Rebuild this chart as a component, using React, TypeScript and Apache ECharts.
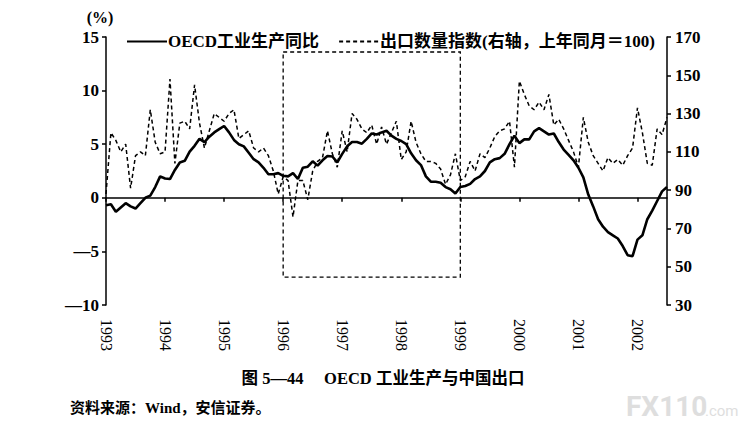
import React, { useEffect, useRef } from "react";
import * as echarts from "echarts";

const YEARS = ["1993", "1994", "1995", "1996", "1997", "1998", "1999", "2000", "2001", "2002"];
const MONTHS_IN_LAST_YEAR = 7;

// OECD industrial production, yoy (%), monthly from 1993-01
const OECD_IP = [
  -0.7, -0.6, -1.3, -0.9, -0.5, -0.8, -1.0, -0.5, 0.0, 0.2, 1.0, 2.0,
  1.8, 1.75, 2.6, 3.3, 3.45, 4.3, 4.85, 5.5, 5.2, 5.7, 6.1, 6.4,
  6.7, 6.1, 5.4, 5.0, 4.8, 4.2, 3.6, 3.3, 2.8, 2.2, 2.2, 2.3,
  2.05, 2.0, 2.3, 1.75, 2.8, 2.9, 3.4, 3.0, 3.5, 3.9, 3.85, 3.3,
  4.1, 4.8, 5.2, 5.2, 5.05, 5.5, 6.0, 5.9, 6.1, 6.25, 5.8, 5.5,
  5.3, 5.0, 4.15, 3.5, 3.05, 2.0, 1.5, 1.5, 1.4, 1.0, 0.8, 0.4,
  1.0, 1.1, 1.3, 1.75, 2.0, 2.5, 3.3, 3.6, 3.7, 4.1, 5.0, 5.8,
  5.1, 5.45, 5.45, 6.2, 6.5, 6.2, 5.9, 6.0, 5.2, 4.5, 4.0, 3.5,
  2.8, 1.9, 0.3, -0.8, -2.0, -2.7, -3.2, -3.5, -3.8, -4.5, -5.35, -5.45,
  -3.9, -3.5, -2.0, -1.2, -0.3, 0.6, 1.0,
];

// China export volume index (same month last year = 100), monthly from 1993-01
const EXPORT_IDX = [
  88, 120, 116, 110, 114, 91, 108, 110, 108, 132, 115, 109,
  110, 148, 104, 125, 126, 122, 145, 125, 112, 121, 130, 128,
  126, 130, 132, 117, 119, 121, 112, 110, 112, 108, 100, 88,
  97, 95, 76, 95, 95, 85, 100, 105, 107, 121, 109, 102,
  121, 110, 130, 127, 122, 120, 124, 114, 123, 114, 120, 126,
  106, 110, 126, 115, 109, 105, 105, 104, 101, 93, 98, 109,
  95, 97, 105, 100, 109, 107, 112, 118, 121, 122, 126, 102,
  147, 140, 134, 132, 136, 132, 140, 124, 127, 122, 116, 110,
  102, 128, 115, 108, 104, 100, 107, 104, 106, 103, 108, 112,
  133, 120, 104, 103, 122, 119, 128,
];

const LEFT_TICKS = { min: -10, max: 15, interval: 5 };
const RIGHT_TICKS = { min: 30, max: 170, interval: 20 };
const BOX = { from: "1996-01", to: "1999-01", top: 13.6, bottom: -7.4 };

const SERIES_NAMES = ["OECD工业生产同比", "出口数量指数(右轴，上年同月＝100)"];

const MONTHS: string[] = [];
YEARS.forEach((y, yi) => {
  const n = yi === YEARS.length - 1 ? MONTHS_IN_LAST_YEAR : 12;
  for (let m = 1; m <= n; m++) MONTHS.push(`${y}-${String(m).padStart(2, "0")}`);
});

const FONT = "'Liberation Serif', 'Noto Sans CJK SC', serif";

export default function App() {
  const ref = useRef<HTMLDivElement>(null);
  useEffect(() => {
    document.body.style.margin = "0";
    if (!ref.current) return;
    const chart = echarts.init(ref.current, undefined, { renderer: "svg" });
    const yearTick = (i: number) => i % 12 === 0;
    chart.setOption({
      animation: false,
      backgroundColor: "#fff",
      textStyle: { fontFamily: FONT, color: "#000" },
      grid: { left: 106, right: 88, top: 37, bottom: 124, containLabel: false },
      legend: {
        left: 121,
        top: 28,
        itemWidth: 40,
        itemHeight: 14,
        itemGap: 19,
        itemStyle: { opacity: 0 },
        textStyle: { fontFamily: FONT, fontSize: 17, fontWeight: "bold", color: "#000", padding: [0, 0, 0, -4] },
        data: SERIES_NAMES,
      },
      xAxis: [
        {
          type: "category",
          data: MONTHS,
          boundaryGap: false,
          position: "bottom",
          axisLine: { show: true, onZero: true, onZeroAxisIndex: 0, lineStyle: { color: "#000", width: 1.5 } },
          axisTick: { show: true, interval: yearTick, length: 4, lineStyle: { color: "#000", width: 1.5 } },
          axisLabel: { show: false },
          splitLine: { show: false },
        },
        {
          type: "category",
          data: MONTHS,
          boundaryGap: false,
          position: "bottom",
          axisLine: { show: false, onZero: false },
          axisTick: { show: false },
          axisLabel: {
            show: true,
            interval: yearTick,
            rotate: -90,
            margin: 14,
            fontFamily: FONT,
            fontSize: 16,
            color: "#000",
            formatter: (v: string) => v.slice(0, 4),
          },
          splitLine: { show: false },
        },
      ],
      yAxis: [
        {
          type: "value",
          position: "left",
          min: LEFT_TICKS.min,
          max: LEFT_TICKS.max,
          interval: LEFT_TICKS.interval,
          axisLine: { show: true, lineStyle: { color: "#000", width: 1.5 } },
          axisTick: { show: true, length: 4, lineStyle: { color: "#000", width: 1.5 } },
          axisLabel: {
            margin: 7,
            fontFamily: FONT,
            fontSize: 17,
            fontWeight: "bold",
            color: "#000",
            formatter: (v: number) => (v < 0 ? "—" + Math.abs(v) : String(v)),
          },
          splitLine: { show: false },
        },
        {
          type: "value",
          position: "right",
          min: RIGHT_TICKS.min,
          max: RIGHT_TICKS.max,
          interval: RIGHT_TICKS.interval,
          axisLine: { show: true, lineStyle: { color: "#000", width: 1.5 } },
          axisTick: { show: true, length: 4, lineStyle: { color: "#000", width: 1.5 } },
          axisLabel: { margin: 8, fontFamily: FONT, fontSize: 17, fontWeight: "bold", color: "#000" },
          splitLine: { show: false },
        },
      ],
      series: [
        {
          name: SERIES_NAMES[0],
          type: "line",
          data: OECD_IP,
          xAxisIndex: 0,
          yAxisIndex: 0,
          symbol: "none",
          z: 4,
          lineStyle: { color: "#000", width: 2.6 },
          itemStyle: { color: "#000" },
          markArea: {
            silent: true,
            itemStyle: { color: "rgba(0,0,0,0)", borderColor: "#000", borderWidth: 1.3, borderType: [4, 3] },
            data: [[{ xAxis: BOX.from, yAxis: BOX.top }, { xAxis: BOX.to, yAxis: BOX.bottom }]],
          },
        },
        {
          name: SERIES_NAMES[1],
          type: "line",
          data: EXPORT_IDX,
          xAxisIndex: 0,
          yAxisIndex: 1,
          symbol: "none",
          z: 3,
          lineStyle: { color: "#000", width: 1.5, type: [4, 3] },
          itemStyle: { color: "#000" },
        },
      ],
      graphic: [
        {
          type: "text",
          x: 100,
          y: 17,
          style: { text: "(%)", fontFamily: FONT, fontSize: 16, fontWeight: "bold", fill: "#000", align: "center", verticalAlign: "middle" },
        },
        {
          type: "text",
          x: 383,
          y: 378,
          style: {
            text: "图 5—44　 OECD 工业生产与中国出口",
            fontFamily: FONT,
            fontSize: 16.5,
            fontWeight: "bold",
            fill: "#000",
            align: "center",
            verticalAlign: "middle",
          },
        },
        {
          type: "text",
          x: 70,
          y: 408,
          style: {
            text: "资料来源：Wind，安信证券。",
            fontFamily: FONT,
            fontSize: 15,
            fontWeight: "bold",
            fill: "#000",
            align: "left",
            verticalAlign: "middle",
          },
        },
        {
          type: "text",
          x: 626,
          y: 406,
          style: { text: "FX110", fontFamily: "Roboto, sans-serif", fontSize: 28, fontWeight: "bold", fill: "#dedede", align: "left", verticalAlign: "middle" },
        },
        {
          type: "text",
          x: 705,
          y: 411,
          style: { text: ".com", fontFamily: "Roboto, sans-serif", fontSize: 15, fill: "#dedede", align: "left", verticalAlign: "middle" },
        },
      ],
    });
    return () => chart.dispose();
  }, []);
  return <div ref={ref} style={{ width: 755, height: 429 }} />;
}
